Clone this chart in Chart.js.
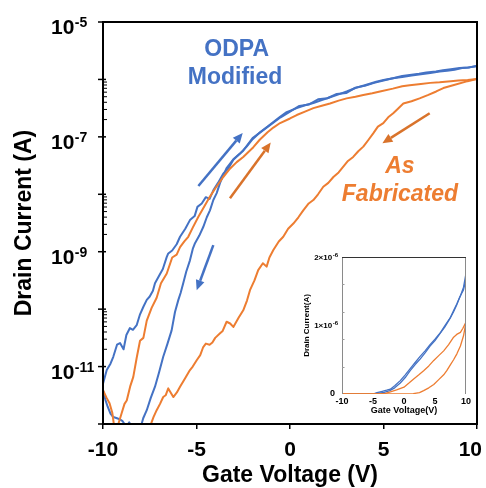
<!DOCTYPE html>
<html><head><meta charset="utf-8">
<script src="https://cdn.jsdelivr.net/npm/chart.js@4.4.0/dist/chart.umd.min.js"></script>
<style>
html,body{margin:0;padding:0;background:#fff;}
#wrap{position:relative;width:486px;height:488px;overflow:hidden;}
#main{position:absolute;left:0;top:0;}
#inset{position:absolute;left:300px;top:250px;}
</style></head><body>
<div id="wrap"><canvas id="main" width="486" height="488"></canvas><canvas id="inset" width="180" height="170"></canvas></div>
<script>
// ---------- main plot data (Gate voltage V, drain current A) ----------
const xTicks = [-10, -5, 0, 5, 10];
const yLabelExps = [-5, -7, -9, -11];
const yMinExp = -12, yMaxExp = -5;
const minorDecades = [-7, -9, -11];

const blueFwdV = [-10,-9.8,-9.6,-9.45,-9.25,-9.09,-8.9,-8.75,-8.56,-8.4,-8.2,-8.02,-7.84,-7.66,-7.5,-7.33,-7.22,-7,-6.8,-6.59,-6.51,-6.3,-6.06,-5.88,-5.6,-5.35,-5.1,-4.95,-4.72,-4.5,-4.3,-4.1,-3.85,-3.57,-3.3,-3.03,-2.7,-2.32,-2,-1.6,-1.2,-0.89,-0.53,-0.18,0.36,0.8,1.25,1.7,2.14,2.6,3.03,3.5,4,4.61,5,5.51,6,6.4,6.9,7.29,7.8,8.18,8.6,9.07,9.5,10];
const blueFwdI = [5.0e-12,8.7e-12,1.12e-11,1.48e-11,2.40e-11,2.57e-11,2.0e-11,3.55e-11,4.68e-11,4.37e-11,5.25e-11,8.13e-11,1.10e-10,1.45e-10,1.66e-10,2.09e-10,2.82e-10,3.80e-10,5.01e-10,8.13e-10,9.33e-10,1.05e-9,1.35e-9,1.82e-9,2.51e-9,3.55e-9,4.17e-9,6.03e-9,6.92e-9,8.91e-9,8.32e-9,1.17e-8,1.58e-8,2.29e-8,2.82e-8,3.98e-8,5.01e-8,6.76e-8,9.12e-8,1.20e-7,1.51e-7,1.82e-7,2.24e-7,2.69e-7,3.16e-7,3.55e-7,3.89e-7,4.37e-7,4.90e-7,5.50e-7,6.17e-7,7.08e-7,7.94e-7,9.12e-7,9.77e-7,1.05e-6,1.15e-6,1.20e-6,1.26e-6,1.32e-6,1.38e-6,1.45e-6,1.51e-6,1.58e-6,1.62e-6,1.70e-6];

const blueRevV = [10,9.6,9.2,8.8,8.4,8,7.5,7,6.5,6,5.5,5,4.5,4,3.5,3,2.5,2,1.5,1,0.5,0,-0.5,-1,-1.5,-2,-2.5,-3,-3.4,-3.74,-3.92,-4.1,-4.28,-4.45,-4.64,-4.85,-5.08,-5.2,-5.35,-5.55,-5.71,-5.85,-5.97,-6.15,-6.33,-6.55,-6.78,-7,-7.22,-7.45,-7.66,-7.85,-8.02,-8.3,-8.6,-8.75,-8.95,-9.1,-9.25,-9.45,-9.6,-9.75,-9.88,-10];
const blueRevI = [1.74e-6,1.62e-6,1.58e-6,1.48e-6,1.41e-6,1.38e-6,1.29e-6,1.23e-6,1.17e-6,1.10e-6,1.05e-6,9.55e-7,8.71e-7,7.76e-7,7.2e-7,5.8e-7,5.6e-7,4.7e-7,4.5e-7,3.65e-7,3.45e-7,2.75e-7,2.19e-7,1.66e-7,1.26e-7,9.55e-8,5.75e-8,4.17e-8,2.82e-8,1.58e-8,1.05e-8,7.94e-9,5.25e-9,3.98e-9,2.69e-9,1.91e-9,1.41e-9,1.12e-9,7.08e-10,4.47e-10,2.82e-10,1.91e-10,1.45e-10,8.91e-11,4.27e-11,2.51e-11,1.48e-11,7.94e-12,4.47e-12,2.82e-12,1.74e-12,1.26e-12,7.94e-13,7.08e-13,1.07e-12,8.91e-13,1.12e-12,1.20e-12,1.26e-12,1.32e-12,1.51e-12,2.0e-12,2.69e-12,3.89e-12];

const orangeFwdV = [-10,-9.8,-9.65,-9.5,-9.4,-9.3,-9.18,-9,-8.85,-8.73,-8.55,-8.38,-8.2,-8.02,-7.84,-7.66,-7.4,-7.13,-6.9,-6.59,-6.3,-6.06,-5.88,-5.65,-5.44,-5.2,-4.9,-4.6,-4.28,-4,-3.57,-3.2,-2.85,-2.5,-1.96,-1.62,-1.2,-0.89,-0.53,0,0.36,0.8,1.25,1.7,2.14,2.6,3.03,3.5,3.92,4.4,4.81,5.5,6,6.4,7,7.5,8,8.6,9,9.5,10];
const orangeFwdI = [3.89e-12,2.82e-12,2.29e-12,1.55e-12,8.91e-13,7.94e-13,1.0e-12,1.55e-12,2.24e-12,2.57e-12,4.47e-12,6.61e-12,1.41e-11,2.82e-11,3.16e-11,6.31e-11,1.05e-10,1.58e-10,2.82e-10,4.17e-10,7.94e-10,8.91e-10,1.20e-9,1.51e-9,1.82e-9,2.63e-9,4.07e-9,6.03e-9,9.12e-9,1.26e-8,2.0e-8,2.82e-8,3.63e-8,4.47e-8,6.61e-8,8.91e-8,1.20e-7,1.45e-7,1.74e-7,2.09e-7,2.40e-7,2.75e-7,3.16e-7,3.47e-7,3.80e-7,4.27e-7,4.68e-7,5.01e-7,5.37e-7,5.75e-7,6.17e-7,6.92e-7,7.59e-7,7.94e-7,8.32e-7,8.71e-7,8.91e-7,9.33e-7,9.55e-7,9.77e-7,1.02e-6];

const orangeRevV = [10,9.5,8.72,8.2,7.82,7.4,6.93,6.5,6.06,5.8,5.52,5.25,4.99,4.7,4.45,4.2,3.92,3.65,3.38,3.1,2.85,2.6,2.32,2.05,1.78,1.5,1.25,1,0.71,0.45,0.18,-0.1,-0.36,-0.6,-0.89,-1.1,-1.25,-1.45,-1.7,-1.9,-2.14,-2.3,-2.5,-2.75,-3.03,-3.2,-3.39,-3.6,-3.74,-4,-4.15,-4.3,-4.5,-4.64,-4.8,-4.99,-5.2,-5.35,-5.6,-5.88,-6.05,-6.24,-6.51,-6.65,-6.78,-6.95,-7.13,-7.3,-7.49,-8,-9,-10];
const orangeRevI = [1.02e-6,9.33e-7,7.94e-7,7.08e-7,6.17e-7,5.37e-7,4.68e-7,4.17e-7,3.80e-7,3.16e-7,2.57e-7,2.19e-7,1.74e-7,1.51e-7,1.15e-7,8.91e-8,6.76e-8,5.62e-8,4.47e-8,3.80e-8,3.02e-8,2.40e-8,2.0e-8,1.58e-8,1.35e-8,1.0e-8,7.94e-9,6.92e-9,5.25e-9,3.98e-9,3.09e-9,2.51e-9,1.82e-9,1.51e-9,1.07e-9,7.94e-10,5.50e-10,6.31e-10,4.79e-10,3.16e-10,2.14e-10,1.41e-10,9.55e-11,7.08e-11,4.90e-11,5.62e-11,6.03e-11,4.17e-11,3.80e-11,3.16e-11,2.63e-11,2.40e-11,2.51e-11,2.19e-11,1.58e-11,1.29e-11,1.0e-11,8.71e-12,6.31e-12,4.47e-12,3.55e-12,2.95e-12,4.17e-12,3.16e-12,2.95e-12,2.24e-12,1.74e-12,1.32e-12,8.91e-13,6.31e-13,6.31e-13,5.01e-13];

// ---------- inset data (linear scale) ----------
const insetXTicks = [-10, -5, 0, 5, 10];
const insetYLabels = [0, 1e-6, 2e-6];
const insetYMinor = [0.4e-6, 0.8e-6, 1.2e-6, 1.6e-6];
const inBlueFwdV = [-10,-5,-4.35,-3.5,-2.8,-2.2,-1.5,-0.6,0.2,1,1.8,2.6,3.4,4.2,5,5.9,6.6,7.5,8,8.55,9.1,9.6,10];
const inBlueFwdI = [0,0,0.02e-6,0.04e-6,0.055e-6,0.07e-6,0.12e-6,0.195e-6,0.28e-6,0.37e-6,0.46e-6,0.55e-6,0.63e-6,0.72e-6,0.80e-6,0.90e-6,1.00e-6,1.12e-6,1.22e-6,1.32e-6,1.43e-6,1.56e-6,1.76e-6];
const inBlueRevV = [10,9.6,9,8.5,8,7.4,6.6,5.8,5,4.2,3.4,2.6,1.8,1,0.2,-0.6,-1.5,-2.3,-3.2,-4.3,-5,-10];
const inBlueRevI = [1.68e-6,1.52e-6,1.42e-6,1.30e-6,1.20e-6,1.10e-6,0.98e-6,0.88e-6,0.78e-6,0.70e-6,0.60e-6,0.51e-6,0.43e-6,0.34e-6,0.24e-6,0.16e-6,0.09e-6,0.05e-6,0.025e-6,0.01e-6,0,0];
const inOrangeFwdV = [-10,-4,-3,-2.2,-1.2,0,0.8,1.56,2.4,3.17,4,4.8,5.6,6.4,7.2,8,8.5,9.1,9.5,10];
const inOrangeFwdI = [0,0,0.01e-6,0.03e-6,0.06e-6,0.10e-6,0.16e-6,0.22e-6,0.28e-6,0.34e-6,0.41e-6,0.49e-6,0.56e-6,0.63e-6,0.72e-6,0.83e-6,0.87e-6,0.90e-6,0.96e-6,1.05e-6];
const inOrangeRevV = [10,9.6,9.1,8.55,8,7.5,6.9,6.4,5.6,4.8,4,3.17,2.5,1.5,0,-10];
const inOrangeRevI = [1.05e-6,0.85e-6,0.70e-6,0.59e-6,0.50e-6,0.43e-6,0.34e-6,0.28e-6,0.21e-6,0.14e-6,0.09e-6,0.05e-6,0.02e-6,0.005e-6,0,0];

// ---------- styling ----------
const FONT = "'Liberation Sans', Arial, Helvetica, sans-serif";
const BLUE = '#4472C4', ORANGE = '#ED7D31', ORANGE_ARROW = '#D9732B';

const annotations = [
  {text:'ODPA', x:-2.85, y:3.24e-6, color:BLUE, italic:false},
  {text:'Modified', x:-2.94, y:1.06e-6, color:BLUE, italic:false},
  {text:'As', x:5.88, y:2.98e-8, color:ORANGE, italic:true},
  {text:'Fabricated', x:5.88, y:1.0e-8, color:ORANGE, italic:true}
];
const arrows = [
  {from:[-4.90,1.39e-8], to:[-2.53,1.17e-7], color:BLUE},
  {from:[-4.10,1.30e-9], to:[-4.99,2.14e-10], color:BLUE},
  {from:[-3.21,8.5e-9], to:[-1.03,7.94e-8], color:ORANGE_ARROW},
  {from:[7.47,2.57e-7], to:[4.94,7.76e-8], color:ORANGE_ARROW}
];

function pts(xs, ys){ return xs.map((v,i)=>({x:v, y:ys[i]})); }
function ds(xs, ys, color, w){ return {data:pts(xs,ys), borderColor:color, backgroundColor:color, borderWidth:w, pointRadius:0, showLine:true, tension:0, borderJoinStyle:'round'}; }

function drawArrow(ctx, x1, y1, x2, y2, color){
  const ang = Math.atan2(y2-y1, x2-x1), hl = 10, hw = 4.5;
  const bx = x2 - hl*Math.cos(ang), by = y2 - hl*Math.sin(ang);
  ctx.strokeStyle = color; ctx.fillStyle = color; ctx.lineWidth = 2.5; ctx.lineCap='butt';
  ctx.beginPath(); ctx.moveTo(x1,y1); ctx.lineTo(bx,by); ctx.stroke();
  ctx.beginPath(); ctx.moveTo(x2,y2);
  ctx.lineTo(bx + hw*Math.sin(ang), by - hw*Math.cos(ang));
  ctx.lineTo(bx - hw*Math.sin(ang), by + hw*Math.cos(ang));
  ctx.closePath(); ctx.fill();
}

const mainDecor = {
  id:'mainDecor',
  afterDraw(chart){
    const {ctx, chartArea:a, scales:{x, y}} = chart;
    ctx.save();
    ctx.strokeStyle = '#000';
    ctx.lineWidth = 1.5;
    for (let e = yMinExp; e <= yMaxExp; e++){
      const py = y.getPixelForValue(Math.pow(10, e));
      ctx.beginPath(); ctx.moveTo(a.left-5, py); ctx.lineTo(a.left+3, py); ctx.stroke();
    }
    ctx.lineWidth = 1;
    minorDecades.forEach(e => {
      for (let k = 2; k <= 9; k++){
        const py = y.getPixelForValue(k*Math.pow(10, e));
        ctx.beginPath(); ctx.moveTo(a.left, py); ctx.lineTo(a.left+4, py); ctx.stroke();
      }
    });
    ctx.lineWidth = 2;
    ctx.strokeRect(a.left, a.top, a.right-a.left, a.bottom-a.top);
    // x tick labels (kept inside the canvas at the right edge)
    ctx.fillStyle = '#000'; ctx.textBaseline = 'middle'; ctx.textAlign = 'center';
    ctx.font = `bold 21px ${FONT}`;
    xTicks.forEach(v => {
      const s = String(v), w = ctx.measureText(s).width;
      const cx = Math.min(x.getPixelForValue(v), chart.width - 4 - w/2);
      ctx.fillText(s, cx, a.bottom + 26);
    });
    // y labels 10^e
    ctx.textAlign = 'left'; ctx.textBaseline = 'alphabetic';
    yLabelExps.forEach(e => {
      const py = y.getPixelForValue(Math.pow(10, e));
      ctx.font = `bold 21px ${FONT}`;
      const lx = a.left - 52;
      ctx.fillText('10', lx, py+12);
      const w = ctx.measureText('10').width;
      ctx.font = `bold 14px ${FONT}`;
      ctx.fillText(String(e), lx + w + 0.5, py+5);
    });
    arrows.forEach(ar => drawArrow(ctx, x.getPixelForValue(ar.from[0]), y.getPixelForValue(ar.from[1]), x.getPixelForValue(ar.to[0]), y.getPixelForValue(ar.to[1]), ar.color));
    ctx.textAlign = 'center'; ctx.textBaseline = 'middle';
    annotations.forEach(t => {
      ctx.font = `${t.italic ? 'italic ' : ''}bold 23px ${FONT}`;
      ctx.fillStyle = t.color;
      ctx.fillText(t.text, x.getPixelForValue(t.x), y.getPixelForValue(t.y));
    });
    ctx.restore();
  }
};

new Chart(document.getElementById('main'), {
  type:'scatter',
  data:{datasets:[
    ds(orangeRevV, orangeRevI, ORANGE, 2),
    ds(orangeFwdV, orangeFwdI, ORANGE, 2),
    ds(blueRevV, blueRevI, BLUE, 2),
    ds(blueFwdV, blueFwdI, BLUE, 2)
  ]},
  options:{
    responsive:false, animation:false, devicePixelRatio:1,
    layout:{padding:{top:22, right:9, left:0, bottom:0}},
    plugins:{legend:{display:false}, tooltip:{enabled:false}},
    scales:{
      x:{type:'linear', min:-10, max:10,
        afterBuildTicks: s => { s.ticks = xTicks.map(v => ({value:v})); },
        afterFit: s => { s.height = 64; s.paddingLeft = 0; s.paddingRight = 0; },
        grid:{display:true, drawOnChartArea:false, drawTicks:true, tickLength:5, color:'#000', lineWidth:1.5},
        border:{display:false},
        ticks:{display:false},
        title:{display:true, text:'Gate Voltage (V)', color:'#000', font:{family:FONT, size:23, weight:'bold', lineHeight:1.1}, padding:0}
      },
      y:{type:'logarithmic', min:Math.pow(10, yMinExp), max:Math.pow(10, yMaxExp),
        afterFit: s => { s.width = 103; s.paddingTop = 0; s.paddingBottom = 0; },
        grid:{display:false, drawTicks:false},
        border:{display:false},
        ticks:{display:false},
        title:{display:true, text:'Drain Current (A)', color:'#000', font:{family:FONT, size:23, weight:'bold', lineHeight:1.1}, padding:{top:12}}
      }
    }
  },
  plugins:[mainDecor]
});

const insetDecor = {
  id:'insetDecor',
  afterDraw(chart){
    const {ctx, chartArea:a, scales:{y}} = chart;
    ctx.save();
    ctx.lineWidth = 1;
    ctx.strokeStyle = '#8a8a8a';
    ctx.beginPath(); ctx.moveTo(a.left+0.5, a.bottom); ctx.lineTo(a.left+0.5, a.top); ctx.stroke();
    ctx.beginPath(); ctx.moveTo(a.right-0.5, a.top); ctx.lineTo(a.right-0.5, a.bottom); ctx.stroke();
    ctx.strokeStyle = '#333';
    ctx.beginPath(); ctx.moveTo(a.left, a.top+0.5); ctx.lineTo(a.right, a.top+0.5); ctx.stroke();
    ctx.strokeStyle = '#9a9a9a';
    insetYMinor.forEach(v => { const py = Math.round(y.getPixelForValue(v))+0.5; ctx.beginPath(); ctx.moveTo(a.left, py); ctx.lineTo(a.left+2.5, py); ctx.stroke(); });
    ctx.fillStyle = '#000'; ctx.textBaseline = 'middle';
    insetYLabels.forEach(v => {
      const py = y.getPixelForValue(v);
      if (v === 0){
        ctx.font = `bold 9px ${FONT}`; ctx.textAlign = 'right';
        ctx.fillText('0', a.left - 7, py);
      } else {
        const exp = Math.floor(Math.log10(v) + 1e-9);
        const mant = Math.round(v / Math.pow(10, exp));
        ctx.font = `bold 6px ${FONT}`; ctx.textAlign = 'left';
        const sup = String(exp);
        const sw = ctx.measureText(sup).width;
        ctx.fillText(sup, a.left - 4 - sw, py - 2);
        ctx.font = `bold 8px ${FONT}`; ctx.textAlign = 'right';
        ctx.fillText(mant + '\u00d710', a.left - 4.5 - sw, py + 0.5);
      }
    });
    ctx.restore();
  }
};

new Chart(document.getElementById('inset'), {
  type:'scatter',
  data:{datasets:[
    ds(inOrangeRevV, inOrangeRevI, ORANGE, 1.3),
    ds(inOrangeFwdV, inOrangeFwdI, ORANGE, 1.3),
    ds(inBlueRevV, inBlueRevI, BLUE, 1.3),
    ds(inBlueFwdV, inBlueFwdI, BLUE, 1.3)
  ]},
  options:{
    responsive:false, animation:false, devicePixelRatio:1,
    layout:{padding:{top:7, right:14, left:0, bottom:0}},
    plugins:{legend:{display:false}, tooltip:{enabled:false}},
    scales:{
      x:{type:'linear', min:-10, max:10,
        afterBuildTicks: s => { s.ticks = insetXTicks.map(v => ({value:v})); },
        afterFit: s => { s.height = 26; s.paddingLeft = 0; s.paddingRight = 0; },
        grid:{display:false, drawTicks:false}, border:{display:false},
        ticks:{font:{family:FONT, size:9, weight:'bold'}, color:'#000', padding:2, maxRotation:0, autoSkip:false},
        title:{display:true, text:'Gate Voltage(V)', color:'#000', font:{family:FONT, size:9, weight:'bold', lineHeight:1.2}, padding:{bottom:4}}
      },
      y:{type:'linear', min:0, max:2e-6,
        afterFit: s => { s.width = 42; s.paddingTop = 0; s.paddingBottom = 0; },
        grid:{display:false, drawTicks:false}, border:{display:false},
        ticks:{display:false},
        title:{display:true, text:'Drain Current(A)', color:'#000', font:{family:FONT, size:8, weight:'bold', lineHeight:1.2}, padding:{top:2}}
      }
    }
  },
  plugins:[insetDecor]
});
</script>
</body></html>
